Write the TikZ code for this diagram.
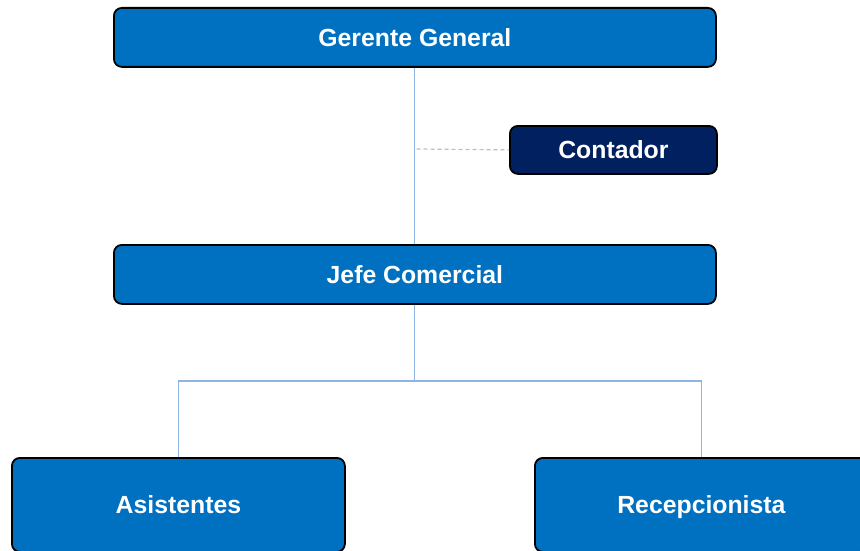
\documentclass[tikz,border=0pt]{standalone}
\usepackage{fontspec}
\setmainfont{Liberation Sans}
\definecolor{boxblue}{HTML}{0070C0}
\definecolor{boxnavy}{HTML}{002060}
\definecolor{linkblue}{HTML}{8DB4E2}
\definecolor{dashgray}{HTML}{BFBFBF}
\tikzset{
  unit/.style={draw=black, line width=1.8pt, rounded corners=8pt, fill=boxblue,
    text=white, font=\fontsize{24.8}{30}\selectfont\bfseries,
    inner sep=0pt, text height=18pt, text depth=0pt, anchor=north west},
  staff/.style={unit, fill=boxnavy},
  link/.style={draw=linkblue, line width=1.1pt},
  aside/.style={draw=dashgray, line width=1.2pt, dash pattern=on 4pt off 3pt}
}
\begin{document}
\begin{tikzpicture}[x=1pt, y=-1pt]
  \useasboundingbox (0,0) rectangle (860,551);
  \clip (0,0) rectangle (860,551);

  % boxes (top-left corner, size in px)
  \node[unit, minimum width=602pt, minimum height=59pt] (gg) at (113,7) {Gerente General};
  \node[staff, minimum width=207pt, minimum height=48pt] (ct) at (509,125) {Contador};
  \node[unit, minimum width=602pt, minimum height=59pt] (jc) at (113,244) {Jefe Comercial};
  \node[unit, minimum width=333pt, minimum height=94pt] (as) at (11,457) {Asistentes};
  \node[unit, minimum width=333pt, minimum height=94pt] (rc) at (534,457) {Recepcionista};

  % reporting lines
  \coordinate (bus) at (414,381);
  \coordinate (tap) at (416.5,149);
  \draw[link] (gg.south) -- (jc.north);
  \draw[link] (jc.south) -- (jc.south |- bus);
  \draw[link] (as.north) |- (bus) -| (rc.north);
  \draw[aside] (tap) -- (ct.west);
\end{tikzpicture}
\end{document}
